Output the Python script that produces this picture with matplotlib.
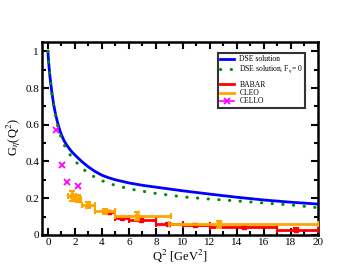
import matplotlib
matplotlib.use("Agg")
import matplotlib.pyplot as plt
from matplotlib.ticker import MultipleLocator
from matplotlib.lines import Line2D

plt.rcParams['font.family'] = ['Liberation Serif', 'DejaVu Serif']
plt.rcParams['mathtext.fontset'] = 'stix'

# DSE solution (full)
dse_q2 = [0, 0.02, 0.05, 0.1, 0.15, 0.2, 0.3, 0.4, 0.5, 0.6, 0.7, 0.8, 0.9, 1.0, 1.2, 1.4,
          1.6, 1.8, 2.0, 2.5, 3.0, 3.5, 4.0, 4.5, 5.0, 6.0, 7.0, 8.0, 10, 12, 14, 16, 18, 20]
dse_g = [1.0, 0.97, 0.94, 0.90, 0.86, 0.83, 0.77, 0.72, 0.68, 0.645, 0.615, 0.59, 0.565, 0.545,
         0.512, 0.488, 0.468, 0.45, 0.435, 0.40, 0.37, 0.345, 0.325, 0.311, 0.30, 0.283, 0.27,
         0.26, 0.24, 0.222, 0.205, 0.19, 0.178, 0.168]

# DSE solution with F_eta = 0
dse0_q2 = [0, 0.02, 0.05, 0.1, 0.15, 0.2, 0.3, 0.4, 0.5, 0.6, 0.7, 0.8, 0.9, 1.0, 1.2, 1.4,
           1.6, 1.8, 2.0, 2.5, 3.0, 3.5, 4.0, 4.5, 5.0, 6.0, 7.0, 8.0, 10, 12, 14, 16, 18, 20]
dse0_g = [1.0, 0.97, 0.94, 0.90, 0.86, 0.825, 0.765, 0.71, 0.67, 0.632, 0.6, 0.572, 0.548, 0.525,
          0.49, 0.463, 0.44, 0.42, 0.403, 0.365, 0.335, 0.313, 0.295, 0.281, 0.27, 0.251,
          0.238, 0.226, 0.207, 0.195, 0.185, 0.174, 0.163, 0.148]

# BABAR
babar_q2 = [4.5, 5.5, 6.9, 8.9, 10.9, 14.5, 18.4]
babar_xlo = [0.4, 0.5, 0.9, 0.9, 0.9, 2.5, 1.4]
babar_xhi = [0.5, 0.5, 1.1, 1.1, 1.1, 2.5, 1.6]
babar_g = [0.123, 0.094, 0.080, 0.060, 0.052, 0.042, 0.029]
babar_gerr = [0.008, 0.006, 0.005, 0.005, 0.005, 0.006, 0.006]

# CLEO
cleo_q2 = [1.76, 2.26, 3.0, 4.24, 6.6, 12.7]
cleo_xlo = [0.26, 0.26, 0.5, 0.74, 1.6, 3.7]
cleo_xhi = [0.3, 0.2, 0.5, 0.76, 2.5, 7.3]
cleo_g = [0.212, 0.198, 0.162, 0.128, 0.102, 0.057]
cleo_gerr = [0.028, 0.02, 0.015, 0.015, 0.022, 0.018]

# CELLO
cello_q2 = [0.62, 1.03, 1.44, 2.26]
cello_g = [0.57, 0.38, 0.29, 0.265]


def main():
    fig = plt.figure(figsize=(3.58, 2.77), dpi=100)
    ax = fig.add_axes([0.117, 0.152, 0.771, 0.696])

    ax.plot(dse_q2, dse_g, color='#0000ff', lw=2.0, zorder=5)
    ax.plot(dse0_q2, dse0_g, color='#008c00', lw=2.2, linestyle=(0, (0.1, 3.4)),
            dash_capstyle='round', zorder=6)

    ax.errorbar(babar_q2, babar_g, xerr=[babar_xlo, babar_xhi], yerr=babar_gerr, fmt='s',
                ms=2.5, color='#ff0000', elinewidth=2.0, capsize=2.5, capthick=1.5, zorder=3)
    ax.errorbar(cleo_q2, cleo_g, xerr=[cleo_xlo, cleo_xhi], yerr=cleo_gerr, fmt='s',
                ms=3, color='#ffa500', elinewidth=2.0, capsize=2.5, capthick=1.5, zorder=4)
    ax.plot(cello_q2, cello_g, 'x', color='#ff00ff', ms=4, mew=1.3, zorder=7)

    ax.set_xlim(-0.45, 20)
    ax.set_ylim(0, 1.05)
    ax.xaxis.set_major_locator(MultipleLocator(2))
    ax.xaxis.set_minor_locator(MultipleLocator(1))
    ax.yaxis.set_minor_locator(MultipleLocator(0.1))
    ax.set_yticks([0, 0.2, 0.4, 0.6, 0.8, 1.0])
    ax.set_yticklabels(['0', '0.2', '0.4', '0.6', '0.8', '1'])
    ax.tick_params(which='both', direction='in', top=True, right=True, width=1.5,
                   labelsize=8, pad=2)
    ax.tick_params(which='major', length=5)
    ax.tick_params(which='minor', length=3)
    for s in ax.spines.values():
        s.set_linewidth(1.8)

    ax.set_xlabel('Q$^2$ [GeV$^2$]', fontsize=9, labelpad=1)
    ax.set_ylabel('G$_\\eta$(Q$^2$)', fontsize=9)
    ax.yaxis.set_label_coords(-0.068, 0.51)

    handles = [
        Line2D([], [], color='#0000ff', lw=2),
        Line2D([], [], color='#008c00', lw=2.2, linestyle=(0, (0.1, 3.4)), dash_capstyle='round'),
        Line2D([], [], color='none'),
        Line2D([], [], color='#ff0000', lw=2),
        Line2D([], [], color='#ffa500', lw=2),
        Line2D([], [], color='#ff00ff', lw=1.2, marker='x', ms=4, mew=1.3, markevery=[0, 1]),
    ]
    labels = ['DSE solution', 'DSE solution, F$_\\eta$= 0', '', 'BABAR', 'CLEO', 'CELLO']
    leg = ax.legend(handles, labels, loc='upper right', bbox_to_anchor=(0.955, 0.945),
                    fontsize=5.5, frameon=True, fancybox=False, handlelength=1.8,
                    handleheight=0.4, handletextpad=0.7, borderpad=0.3, labelspacing=0.05,
                    borderaxespad=0)
    leg.get_frame().set_edgecolor('black')
    leg.get_frame().set_linewidth(1.5)
    for t in leg.get_texts():
        if t.get_text() == '':
            t.set_fontsize(1)

    fig.savefig('out.png', dpi=100)
    return 0


if __name__ == '__main__':
    main()
